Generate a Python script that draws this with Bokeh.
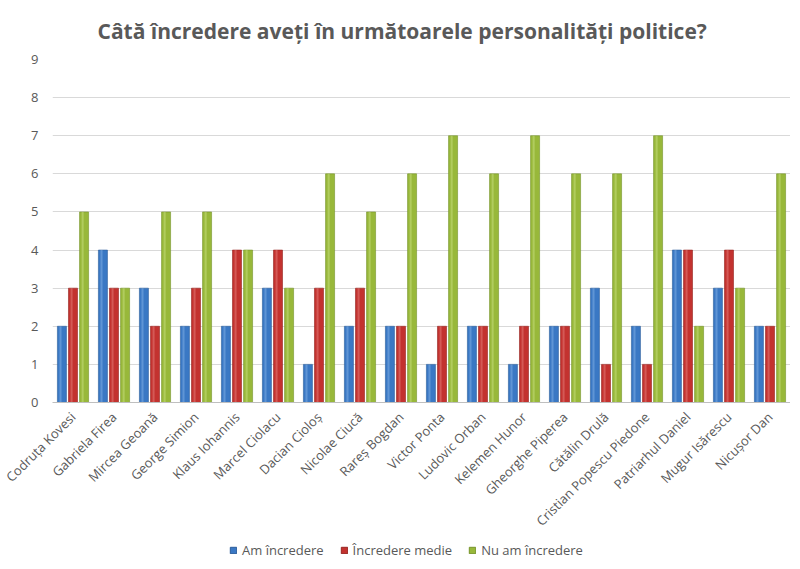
from math import pi

from bokeh.plotting import figure
from bokeh.layouts import column
from bokeh.models import ColumnDataSource, FactorRange, Legend, LegendItem, FixedTicker
from bokeh.transform import dodge
from bokeh.embed import file_html
from bokeh.resources import INLINE


names = ["Codruța Kovesi", "Gabriela Firea", "Mircea Geoană", "George Simion",
         "Klaus Iohannis", "Marcel Ciolacu", "Dacian Cioloș", "Nicolae Ciucă",
         "Rareș Bogdan", "Victor Ponta", "Ludovic Orban", "Kelemen Hunor",
         "Gheorghe Piperea", "Cătălin Drulă", "Cristian Popescu Piedone",
         "Patriarhul Daniel", "Mugur Isărescu", "Nicușor Dan"]
am_incredere = [2, 4, 3, 2, 2, 3, 1, 2, 2, 1, 2, 1, 2, 3, 2, 4, 3, 2]
incredere_medie = [3, 3, 2, 3, 4, 4, 3, 3, 2, 2, 2, 2, 2, 1, 1, 4, 4, 2]
nu_am_incredere = [5, 3, 5, 5, 4, 3, 6, 5, 6, 7, 6, 7, 6, 6, 7, 2, 3, 6]
series_labels = ["Am încredere", "Încredere medie", "Nu am încredere"]
colors = ["#3a78c4", "#c3322f", "#98b83a"]
edges = ["#2a5c9a", "#962420", "#76942a"]
highlights = ["#8fb8ea", "#e98a86", "#cfe48a"]

FONT = "Open Sans"
GREY = "#595959"

src = ColumnDataSource(dict(name=names, a=am_incredere, b=incredere_medie, c=nu_am_incredere))

p = figure(x_range=FactorRange(*names, range_padding=0), y_range=(0, 9),
           width=790, height=538, output_backend="svg", toolbar_location=None,
           min_border_left=52, min_border_right=0, min_border_top=59, min_border_bottom=134,
           title="Câtă încredere aveți în următoarele personalități politice?")

p.title.align = "left"
p.title.text_font = FONT
p.title.text_font_size = "21px"
p.title.text_font_style = "bold"
p.title.text_color = GREY
p.title.standoff = 29
p.title.offset = 45

offsets = [-0.27, 0, 0.27]
renderers = []
for key, off, col, edge, hl in zip(["a", "b", "c"], offsets, colors, edges, highlights):
    r = p.vbar(x=dodge("name", off, range=p.x_range), top=key, width=0.22, source=src,
               fill_color=col, line_color=edge, line_width=0.6)
    # light strip to hint at the cylinder shading
    p.vbar(x=dodge("name", off - 0.035, range=p.x_range), top=key, width=0.05, source=src,
           fill_color=hl, fill_alpha=0.45, line_color=None)
    renderers.append(r)

p.outline_line_color = None
p.xgrid.grid_line_color = None
p.ygrid.grid_line_color = "#d9d9d9"
p.ygrid.grid_line_width = 1

p.yaxis.ticker = FixedTicker(ticks=list(range(10)))
p.yaxis.axis_line_color = None
p.yaxis.major_tick_line_color = None
p.yaxis.minor_tick_line_color = None
p.yaxis.major_label_text_font = FONT
p.yaxis.major_label_text_font_size = "13px"
p.yaxis.major_label_text_color = GREY
p.yaxis.major_label_standoff = 8

p.xaxis.axis_line_color = "#bfbfbf"
p.xaxis.major_tick_line_color = None
p.xaxis.major_label_orientation = pi / 4
p.xaxis.major_label_text_font = FONT
p.xaxis.major_label_text_font_size = "13px"
p.xaxis.major_label_text_color = GREY
p.xaxis.major_label_standoff = 6

# legend lives in its own strip under the chart; its swatch glyphs sit off-range
leg = figure(width=790, height=23, x_range=(0, 1), y_range=(0, 1),
             output_backend="svg", toolbar_location=None, min_border=0)
leg.axis.visible = False
leg.grid.visible = False
leg.outline_line_color = None
dummy = ColumnDataSource(dict(x=[-5], top=[-5]))
leg_rs = [leg.vbar(x="x", top="top", width=0.1, source=dummy, fill_color=c, line_color=e)
          for c, e in zip(colors, edges)]
legend = Legend(items=[LegendItem(label=lab, renderers=[r]) for lab, r in zip(series_labels, leg_rs)],
                orientation="horizontal", location=(177, 2),
                label_text_font=FONT, label_text_font_size="13px", label_text_color=GREY,
                glyph_width=8, glyph_height=8, label_standoff=5, spacing=16,
                border_line_color=None, background_fill_alpha=0, margin=0, padding=0)
leg.add_layout(legend)

page = column(p, leg, spacing=0)
open("out.html", "w").write(file_html(page, INLINE))
